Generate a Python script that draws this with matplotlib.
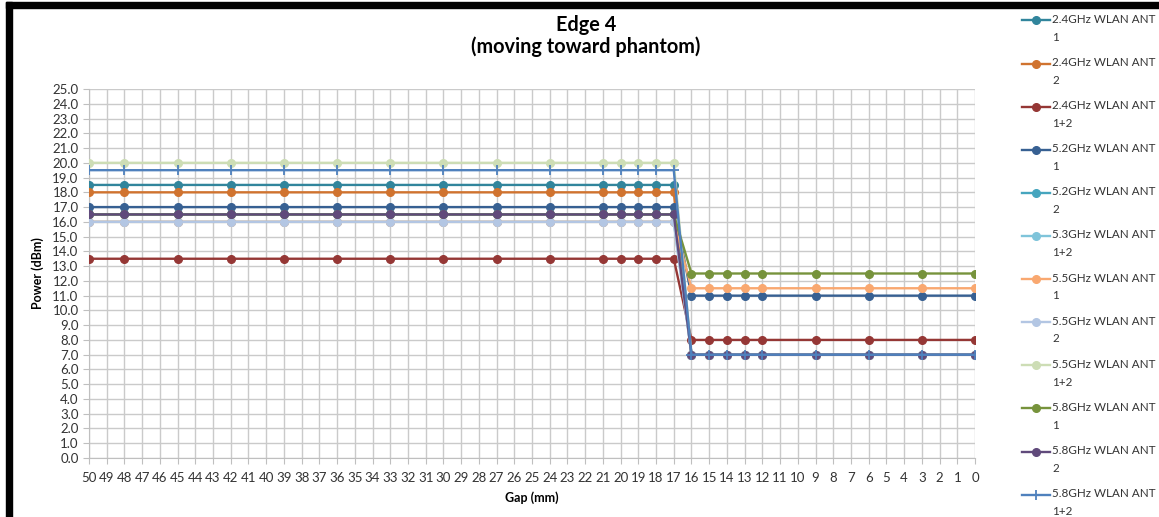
import matplotlib
matplotlib.use("Agg")
import matplotlib.pyplot as plt
from matplotlib.patches import Rectangle
from matplotlib.lines import Line2D

plt.rcParams['font.family'] = ['Lato', 'DejaVu Sans']

# Gap positions that were measured (mm)
gap = [50, 48, 45, 42, 39, 36, 33, 30, 27, 24, 21, 20, 19, 18, 17,
       16, 15, 14, 13, 12, 9, 6, 3, 0]

wlan24_ant1 = [18.5, 18.5, 18.5, 18.5, 18.5, 18.5, 18.5, 18.5, 18.5, 18.5, 18.5, 18.5, 18.5, 18.5, 18.5,
               7.0, 7.0, 7.0, 7.0, 7.0, 7.0, 7.0, 7.0, 7.0]
wlan24_ant2 = [18.0, 18.0, 18.0, 18.0, 18.0, 18.0, 18.0, 18.0, 18.0, 18.0, 18.0, 18.0, 18.0, 18.0, 18.0,
               7.0, 7.0, 7.0, 7.0, 7.0, 7.0, 7.0, 7.0, 7.0]
wlan24_ant12 = [13.5, 13.5, 13.5, 13.5, 13.5, 13.5, 13.5, 13.5, 13.5, 13.5, 13.5, 13.5, 13.5, 13.5, 13.5,
                8.0, 8.0, 8.0, 8.0, 8.0, 8.0, 8.0, 8.0, 8.0]
wlan52_ant1 = [17.0, 17.0, 17.0, 17.0, 17.0, 17.0, 17.0, 17.0, 17.0, 17.0, 17.0, 17.0, 17.0, 17.0, 17.0,
               11.0, 11.0, 11.0, 11.0, 11.0, 11.0, 11.0, 11.0, 11.0]
wlan52_ant2 = [16.5, 16.5, 16.5, 16.5, 16.5, 16.5, 16.5, 16.5, 16.5, 16.5, 16.5, 16.5, 16.5, 16.5, 16.5,
               7.0, 7.0, 7.0, 7.0, 7.0, 7.0, 7.0, 7.0, 7.0]
wlan53_ant12 = [16.0, 16.0, 16.0, 16.0, 16.0, 16.0, 16.0, 16.0, 16.0, 16.0, 16.0, 16.0, 16.0, 16.0, 16.0,
                7.0, 7.0, 7.0, 7.0, 7.0, 7.0, 7.0, 7.0, 7.0]
wlan55_ant1 = [16.0, 16.0, 16.0, 16.0, 16.0, 16.0, 16.0, 16.0, 16.0, 16.0, 16.0, 16.0, 16.0, 16.0, 16.0,
               11.5, 11.5, 11.5, 11.5, 11.5, 11.5, 11.5, 11.5, 11.5]
wlan55_ant2 = [16.0, 16.0, 16.0, 16.0, 16.0, 16.0, 16.0, 16.0, 16.0, 16.0, 16.0, 16.0, 16.0, 16.0, 16.0,
               7.0, 7.0, 7.0, 7.0, 7.0, 7.0, 7.0, 7.0, 7.0]
wlan55_ant12 = [20.0, 20.0, 20.0, 20.0, 20.0, 20.0, 20.0, 20.0, 20.0, 20.0, 20.0, 20.0, 20.0, 20.0, 20.0,
                7.0, 7.0, 7.0, 7.0, 7.0, 7.0, 7.0, 7.0, 7.0]
wlan58_ant1 = [16.5, 16.5, 16.5, 16.5, 16.5, 16.5, 16.5, 16.5, 16.5, 16.5, 16.5, 16.5, 16.5, 16.5, 16.5,
               12.5, 12.5, 12.5, 12.5, 12.5, 12.5, 12.5, 12.5, 12.5]
wlan58_ant2 = [16.5, 16.5, 16.5, 16.5, 16.5, 16.5, 16.5, 16.5, 16.5, 16.5, 16.5, 16.5, 16.5, 16.5, 16.5,
               7.0, 7.0, 7.0, 7.0, 7.0, 7.0, 7.0, 7.0, 7.0]
wlan58_ant12 = [19.5, 19.5, 19.5, 19.5, 19.5, 19.5, 19.5, 19.5, 19.5, 19.5, 19.5, 19.5, 19.5, 19.5, 19.5,
                7.0, 7.0, 7.0, 7.0, 7.0, 7.0, 7.0, 7.0, 7.0]

labels = ["2.4GHz WLAN ANT\n1", "2.4GHz WLAN ANT\n2", "2.4GHz WLAN ANT\n1+2",
          "5.2GHz WLAN ANT\n1", "5.2GHz WLAN ANT\n2", "5.3GHz WLAN ANT\n1+2",
          "5.5GHz WLAN ANT\n1", "5.5GHz WLAN ANT\n2", "5.5GHz WLAN ANT\n1+2",
          "5.8GHz WLAN ANT\n1", "5.8GHz WLAN ANT\n2", "5.8GHz WLAN ANT\n1+2"]
series = [wlan24_ant1, wlan24_ant2, wlan24_ant12, wlan52_ant1, wlan52_ant2, wlan53_ant12,
          wlan55_ant1, wlan55_ant2, wlan55_ant12, wlan58_ant1, wlan58_ant2, wlan58_ant12]
colors = ["#31859C", "#D0732F", "#953735", "#376092", "#46A5BE", "#7FC4DA",
          "#F9A870", "#B3C6E3", "#CDDDB5", "#77933C", "#604A7B", "#4F81BD"]
markers = ["o"] * 11 + ["+"]

W, H = 1159, 517
fig = plt.figure(figsize=(W / 100, H / 100), dpi=100)
ax = fig.add_axes([89 / W, 1 - 458 / H, (975 - 89) / W, (458 - 89) / H])

def mstyle(mk):
    if mk == "+":
        return dict(markersize=7, markeredgewidth=1.3)
    return dict(markersize=5.5, markeredgewidth=1)

for vals, lab, col, mk in zip(series, labels, colors, markers):
    ax.plot(gap, vals, color=col, marker=mk, linewidth=1.7, label=lab, zorder=3, **mstyle(mk))

ax.set_xlim(50, 0)
ax.set_ylim(0, 25)
ax.set_xticks(range(0, 51))
ax.set_yticks(range(0, 26))
ax.set_yticklabels(["%.1f" % i for i in range(0, 26)])
ax.grid(True, color="#CACACA", linewidth=1.0, zorder=0)
ax.set_axisbelow(True)
for s in ["top", "right"]:
    ax.spines[s].set_visible(False)
for s in ["left", "bottom"]:
    ax.spines[s].set_color("#BFBFBF")
ax.tick_params(axis="both", colors="#BFBFBF", labelcolor="#333333", labelsize=9.5, length=4)
ax.tick_params(axis="x", pad=6)

ax.set_xlabel("Gap (mm)", fontsize=9, fontweight="bold", labelpad=5)
ax.set_ylabel("Power (dBm)", fontsize=9, fontweight="bold", labelpad=6)

fig.text(586 / W, 1 - 25 / H, "Edge 4", ha="center", va="center", fontsize=14.3, fontweight="bold")
fig.text(586 / W, 1 - 47 / H, "(moving toward phantom)", ha="center", va="center",
         fontsize=14.3, fontweight="bold")

# legend drawn by hand so the handle sits on the first text line
for i, (lab, col, mk) in enumerate(zip(labels, colors, markers)):
    y = 1 - (20.5 + i * 43.1) / H
    fig.add_artist(Line2D([1022 / W, 1050 / W], [y, y], transform=fig.transFigure,
                          color=col, linewidth=1.7))
    fig.add_artist(Line2D([1036 / W], [y], transform=fig.transFigure, color=col,
                          marker=mk, **mstyle(mk)))
    fig.text(1052 / W, y + 6.5 / H, lab, ha="left", va="top", fontsize=8.4,
             color="#333333", linespacing=1.75)

# black frame of the screenshot (top and left)
fig.patches.append(Rectangle((6 / W, 1 - 8 / H), 1, 6 / H, transform=fig.transFigure,
                             color="black", zorder=10))
fig.patches.append(Rectangle((6 / W, 0), 6 / W, 1 - 2 / H, transform=fig.transFigure,
                             color="black", zorder=10))

fig.savefig("out.png", dpi=100)
